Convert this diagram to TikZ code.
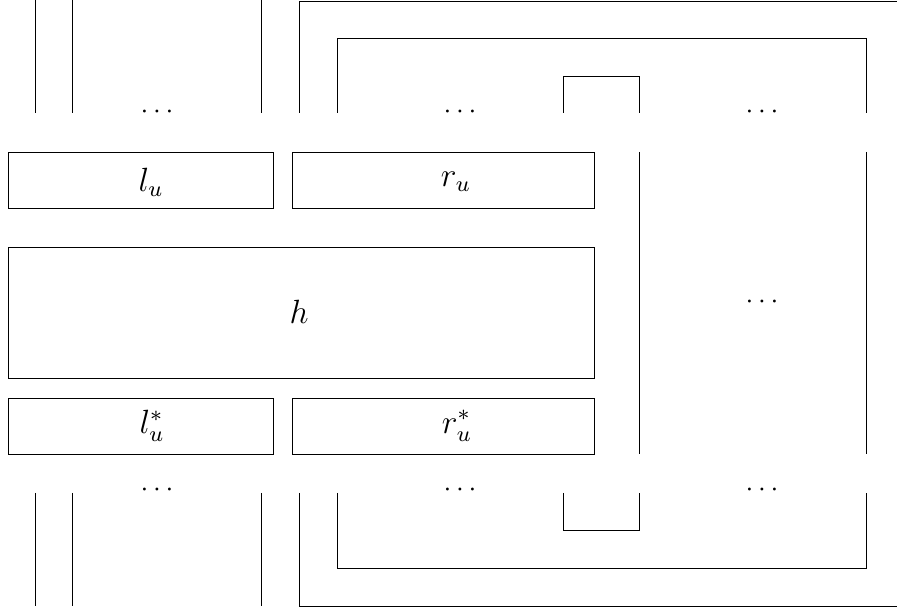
\documentclass[tikz,border=0pt]{standalone}
\begin{document}
\begin{tikzpicture}[x=0.357pt,y=-0.357pt,
  ln/.style={line width=0.35pt,black},
  bx/.style={draw,line width=0.35pt,inner sep=0pt,anchor=center},
  tx/.style={inner sep=0pt,anchor=center,font=\fontsize{11.5}{14}\selectfont},
  dt/.style={inner sep=0pt,anchor=center}]
\useasboundingbox (0,0) rectangle (897,608);
% boxes
\node[bx,minimum width=265*0.357pt,minimum height=56*0.357pt] (lu) at (140.5,180) {};
\node[bx,minimum width=302*0.357pt,minimum height=56*0.357pt] (ru) at (443,180) {};
\node[bx,minimum width=586*0.357pt,minimum height=131*0.357pt] (h) at (301,312.5) {};
\node[bx,minimum width=265*0.357pt,minimum height=56*0.357pt] (ls) at (140.5,426) {};
\node[bx,minimum width=302*0.357pt,minimum height=56*0.357pt] (rs) at (443,426) {};
% labels
\node[tx] (tlu) at (151,182) {$l_u$};
\node[tx] (tru) at (456,182) {$r_u$};
\node[tx] (th) at (299,312) {$h$};
\node[tx] (tls) at (152,426) {$l_u^*$};
\node[tx] (trs) at (457,426) {$r_u^*$};
% dots
\node[dt] (d1) at (157,112) {$\cdots$};
\node[dt] (d2) at (460,112) {$\cdots$};
\node[dt] (d3) at (762,112) {$\cdots$};
\node[dt] (d4) at (762,302) {$\cdots$};
\node[dt] (d5) at (157,490) {$\cdots$};
\node[dt] (d6) at (460,490) {$\cdots$};
\node[dt] (d7) at (762,490) {$\cdots$};
% top lines
\draw[ln] (35,0) -- (35,113);
\draw[ln] (72,0) -- (72,113);
\draw[ln] (261,0) -- (261,113);
\draw[ln] (299,113) -- (299,1) -- (897,1);
\draw[ln] (337,113) -- (337,38) -- (866,38) -- (866,113);
\draw[ln] (563,113) -- (563,76) -- (639,76) -- (639,113);
% right middle lines
\draw[ln] (639,152) -- (639,454);
\draw[ln] (866,152) -- (866,454);
% bottom lines
\draw[ln] (35,493) -- (35,606);
\draw[ln] (72,493) -- (72,606);
\draw[ln] (261,493) -- (261,606);
\draw[ln] (299,493) -- (299,606) -- (897,606);
\draw[ln] (337,493) -- (337,568) -- (866,568) -- (866,493);
\draw[ln] (563,493) -- (563,530) -- (639,530) -- (639,493);
\end{tikzpicture}
\end{document}
